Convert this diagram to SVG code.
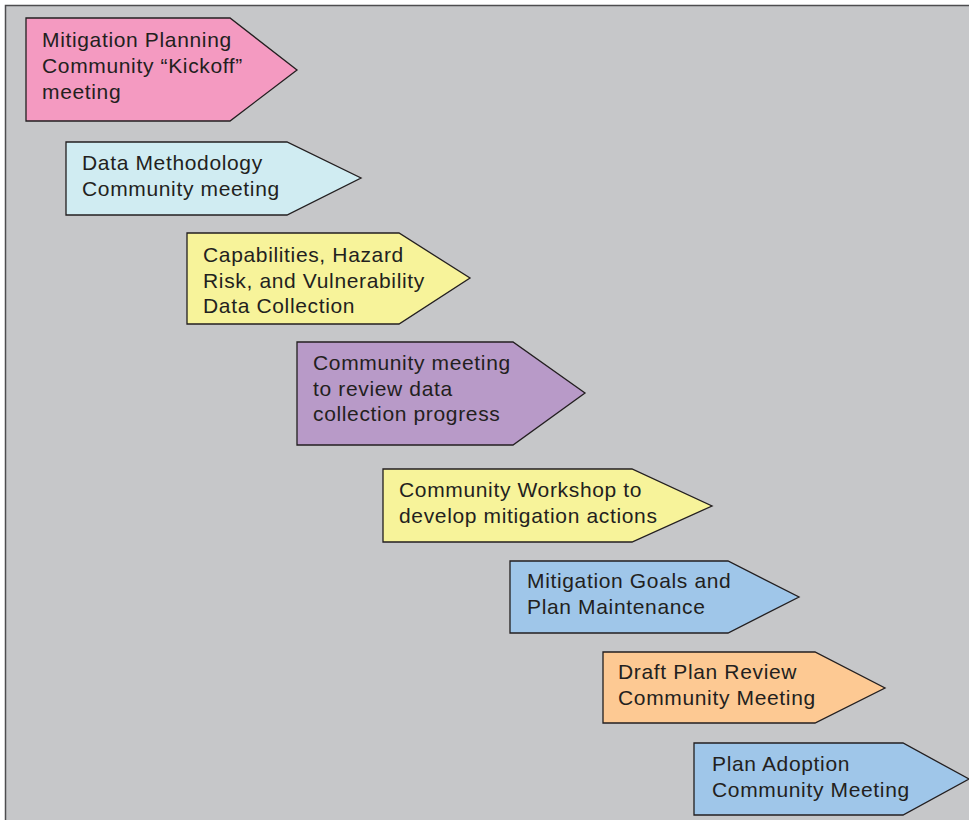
<svg xmlns="http://www.w3.org/2000/svg" width="969" height="820" viewBox="0 0 969 820">
<style>
.bg{fill:#c6c7c9;stroke:#4d4d4f;stroke-width:1.5}
.s{stroke:#231f20;stroke-width:1.3;stroke-linejoin:miter}
.t{font-family:"Liberation Sans",Arial,sans-serif;font-size:21px;letter-spacing:0.65px;fill:#231f20}
</style>
<rect width="969" height="820" fill="#ffffff"/>
<rect class="bg" x="5.5" y="5.5" width="980" height="830"/>
<g id="n1"><polygon class="s" fill="#f49ac1" points="26,18 230,18 297,70 230,121 26,121"/>
<text class="t" x="42" y="47">Mitigation Planning</text><text class="t" x="42" y="73">Community “Kickoff”</text><text class="t" x="42" y="99">meeting</text></g>
<g id="n2"><polygon class="s" fill="#d0ecf2" points="66,142 287,142 361,178 287,215 66,215"/>
<text class="t" x="82" y="170">Data Methodology</text><text class="t" x="82" y="196">Community meeting</text></g>
<g id="n3"><polygon class="s" fill="#f7f39a" points="187,233 399,233 470,278 399,324 187,324"/>
<text class="t" x="203" y="262">Capabilities, Hazard</text><text class="t" x="203" y="288">Risk, and Vulnerability</text><text class="t" x="203" y="313">Data Collection</text></g>
<g id="n4"><polygon class="s" fill="#b89ac8" points="297,342 513,342 585,393 513,445 297,445"/>
<text class="t" x="313" y="370">Community meeting</text><text class="t" x="313" y="396">to review data</text><text class="t" x="313" y="421">collection progress</text></g>
<g id="n5"><polygon class="s" fill="#f7f39a" points="383,469 632,469 712,506 632,542 383,542"/>
<text class="t" x="399" y="497">Community Workshop to</text><text class="t" x="399" y="523">develop mitigation actions</text></g>
<g id="n6"><polygon class="s" fill="#9fc6e9" points="510,561 728,561 799,597 728,633 510,633"/>
<text class="t" x="527" y="588">Mitigation Goals and</text><text class="t" x="527" y="614">Plan Maintenance</text></g>
<g id="n7"><polygon class="s" fill="#fdc993" points="603,652 815,652 885,688 815,723 603,723"/>
<text class="t" x="618" y="679">Draft Plan Review</text><text class="t" x="618" y="705">Community Meeting</text></g>
<g id="n8"><polygon class="s" fill="#9fc6e9" points="694,743 903,743 969,779 903,815 694,815"/>
<text class="t" x="712" y="771">Plan Adoption</text><text class="t" x="712" y="797">Community Meeting</text></g>
<g id="connectors"></g>
</svg>
